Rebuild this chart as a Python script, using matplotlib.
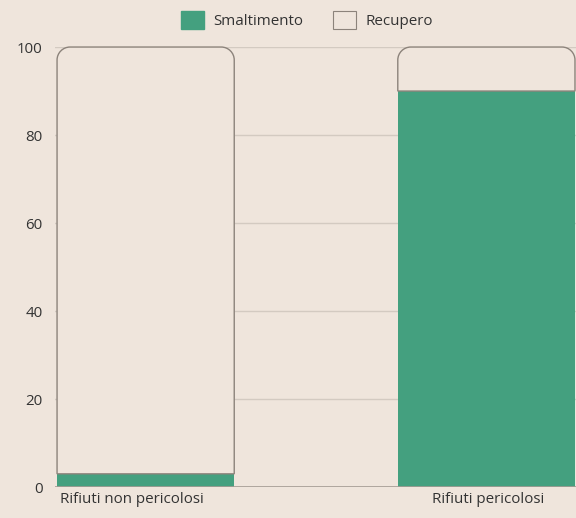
import matplotlib.pyplot as plt
from matplotlib.path import Path
from matplotlib.patches import PathPatch, Patch
from matplotlib.transforms import blended_transform_factory

categories = ['Rifiuti non pericolosi', 'Rifiuti pericolosi']
smaltimento = [3, 90]
recupero = [97, 10]

bg = '#efe5dc'
green = '#44a07f'
edge = '#8c837b'
txt = '#333333'

plt.rcParams['font.family'] = ['Open Sans', 'DejaVu Sans']

fig = plt.figure(figsize=(5.76, 5.18), dpi=100, facecolor=bg)
ax = fig.add_axes([0.0955, 0.0598, 0.9045, 0.8494])
ax.set_facecolor(bg)

x = list(range(len(categories)))
w = 0.52
ax.bar(x, smaltimento, width=w, color=green, zorder=3)
rec = ax.bar(x, recupero, width=w, bottom=smaltimento, color='none', zorder=3)

ax.set_xlim(-0.266, 1.263)
ax.set_ylim(0, 100)

# rounded top corners in pixel units
fig.canvas.draw()
bbox = ax.get_window_extent()
px_x = bbox.width / (ax.get_xlim()[1] - ax.get_xlim()[0])
px_y = bbox.height / (ax.get_ylim()[1] - ax.get_ylim()[0])
r = 13
rx, ry = r / px_x, r / px_y
k = 0.5523
for b in rec:
    x0, y0 = b.get_x(), b.get_y()
    x1, y1 = x0 + b.get_width(), y0 + b.get_height()
    verts = [
        (x0, y0), (x0, y1 - ry),
        (x0, y1 - ry + k * ry), (x0 + rx - k * rx, y1), (x0 + rx, y1),
        (x1 - rx, y1),
        (x1 - rx + k * rx, y1), (x1, y1 - ry + k * ry), (x1, y1 - ry),
        (x1, y0), (x0, y0),
    ]
    codes = [Path.MOVETO, Path.LINETO,
             Path.CURVE4, Path.CURVE4, Path.CURVE4,
             Path.LINETO,
             Path.CURVE4, Path.CURVE4, Path.CURVE4,
             Path.LINETO, Path.CLOSEPOLY]
    ax.add_patch(PathPatch(Path(verts, codes), facecolor=bg, edgecolor=edge,
                           linewidth=1.0, zorder=4, clip_on=False))

ax.set_yticks([0, 20, 40, 60, 80, 100])
ax.yaxis.grid(True, color='#d3cac1', linewidth=1.0, zorder=0)
ax.axhline(0, color='#a59c94', linewidth=1.2, zorder=5)
for s in ax.spines.values():
    s.set_visible(False)
ax.tick_params(axis='y', length=0, pad=9, labelsize=10.8, labelcolor=txt)
ax.set_xticks([])

# category labels: first left-aligned near bar edge, second centred
trans = blended_transform_factory(ax.transData, ax.transAxes)
ax.text(x[0] - w / 2 + 0.008, -0.012, categories[0], transform=trans,
        ha='left', va='top', fontsize=10.9, color=txt)
ax.text(x[1] + 0.004, -0.012, categories[1], transform=trans,
        ha='center', va='top', fontsize=10.9, color=txt)

handles = [Patch(facecolor=green, edgecolor=green),
           Patch(facecolor=bg, edgecolor=edge, linewidth=0.8)]
fig.legend(handles, ['Smaltimento', 'Recupero'], loc='upper center',
           bbox_to_anchor=(0.533, 1.006), ncol=2, frameon=False, fontsize=10.9,
           handlelength=1.5, handleheight=1.5, columnspacing=2.0,
           handletextpad=0.6, labelcolor=txt)

fig.savefig('out.png', dpi=100, facecolor=bg)
